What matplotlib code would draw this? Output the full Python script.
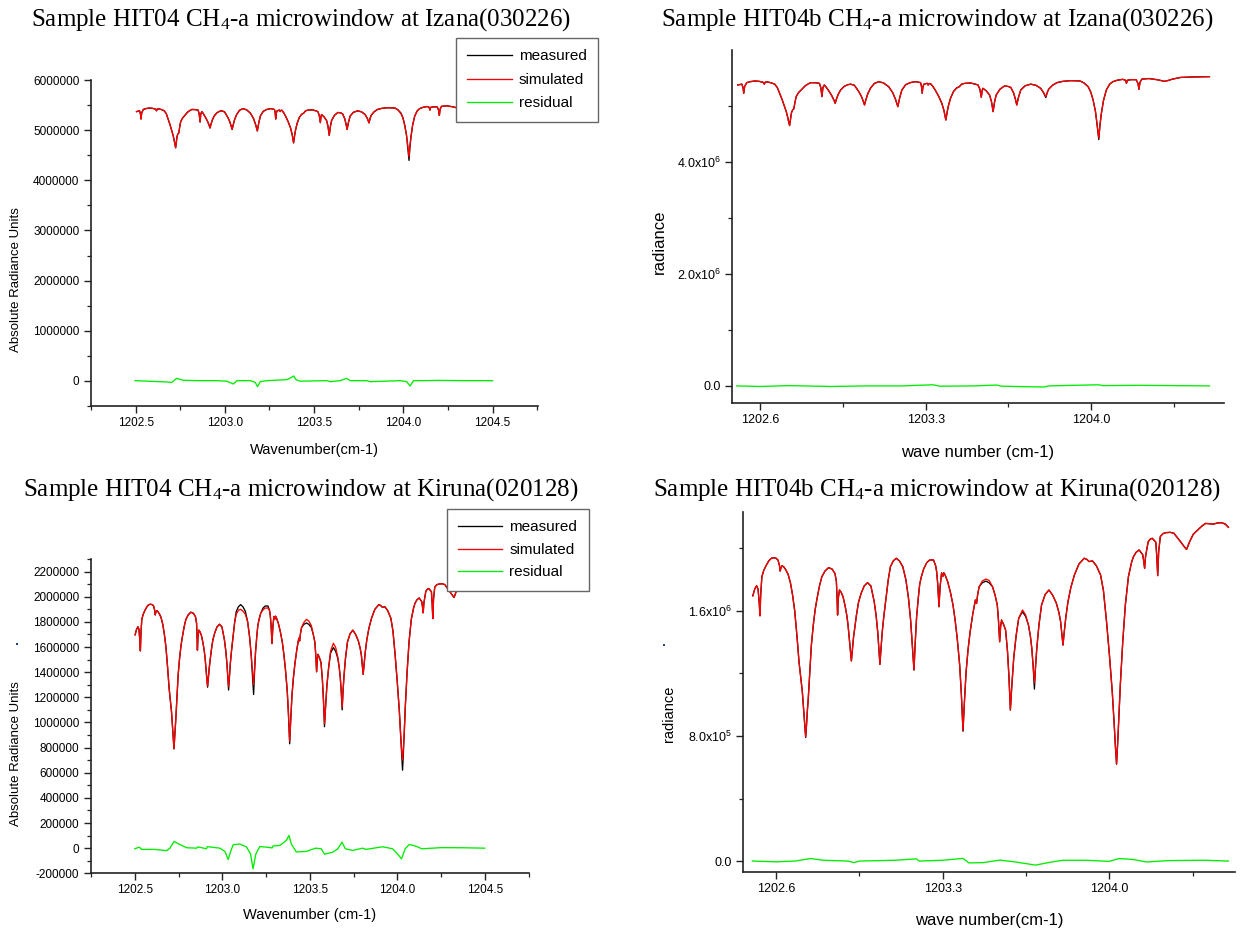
import numpy as np
import matplotlib
matplotlib.use("Agg")
import matplotlib.pyplot as plt
from matplotlib.ticker import FixedLocator, FixedFormatter
from matplotlib.patches import Rectangle

# ---- Izana (030226) measured spectrum, radiance in units of 1e6 ----
wn_iza = [1202.505, 1202.515, 1202.522, 1202.527, 1202.530, 1202.534, 1202.543, 1202.558,
          1202.577, 1202.595, 1202.612, 1202.617, 1202.621, 1202.630, 1202.645, 1202.661,
          1202.672, 1202.682, 1202.692, 1202.703, 1202.710, 1202.716, 1202.720, 1202.724,
          1202.728, 1202.732, 1202.737, 1202.742, 1202.747, 1202.752, 1202.762, 1202.773,
          1202.790, 1202.805, 1202.815, 1202.833, 1202.850, 1202.856, 1202.861, 1202.865,
          1202.871, 1202.880, 1202.892, 1202.903, 1202.912, 1202.917, 1202.922, 1202.930,
          1202.940, 1202.955, 1202.970, 1202.982, 1202.998, 1203.017, 1203.028, 1203.036,
          1203.041, 1203.046, 1203.055, 1203.066, 1203.082, 1203.101, 1203.122, 1203.143,
          1203.160, 1203.172, 1203.182, 1203.190, 1203.199, 1203.215, 1203.234, 1203.257,
          1203.278, 1203.282, 1203.285, 1203.288, 1203.292, 1203.306, 1203.310, 1203.314,
          1203.320, 1203.330, 1203.340, 1203.355, 1203.368, 1203.377, 1203.385, 1203.391,
          1203.396, 1203.405, 1203.417, 1203.430, 1203.442, 1203.452, 1203.466, 1203.490,
          1203.510, 1203.521, 1203.529, 1203.535, 1203.539, 1203.542, 1203.556, 1203.570,
          1203.578, 1203.585, 1203.591, 1203.598, 1203.614, 1203.633, 1203.648, 1203.660,
          1203.672, 1203.680, 1203.685, 1203.692, 1203.702, 1203.720, 1203.744, 1203.766,
          1203.786, 1203.798, 1203.808, 1203.814, 1203.820, 1203.836, 1203.855, 1203.880,
          1203.911, 1203.935, 1203.953, 1203.970, 1203.987, 1203.998, 1204.008, 1204.018,
          1204.025, 1204.032, 1204.037, 1204.043, 1204.052, 1204.064, 1204.078, 1204.092,
          1204.110, 1204.133, 1204.145, 1204.149, 1204.153, 1204.169, 1204.190, 1204.198,
          1204.202, 1204.206, 1204.214, 1204.244, 1204.278, 1204.300, 1204.311, 1204.325,
          1204.344, 1204.378, 1204.410, 1204.445, 1204.500]
iza_meas = [5.375, 5.385, 5.390, 5.330, 5.226, 5.350, 5.417, 5.435,
            5.446, 5.440, 5.423, 5.390, 5.425, 5.430, 5.415, 5.390,
            5.330, 5.226, 5.120, 4.988, 4.900, 4.800, 4.720, 4.650,
            4.760, 4.880, 4.930, 4.950, 5.070, 5.167, 5.240, 5.286,
            5.360, 5.400, 5.417, 5.415, 5.405, 5.330, 5.167, 5.330,
            5.375, 5.330, 5.256, 5.180, 5.100, 5.048, 5.120, 5.210,
            5.286, 5.350, 5.380, 5.390, 5.370, 5.256, 5.170, 5.080,
            5.018, 5.100, 5.220, 5.316, 5.400, 5.435, 5.410, 5.345,
            5.240, 5.120, 4.988, 5.150, 5.286, 5.380, 5.417, 5.435,
            5.417, 5.350, 5.226, 5.340, 5.390, 5.405, 5.375, 5.400,
            5.400, 5.350, 5.286, 5.170, 5.048, 4.920, 4.750, 4.900,
            5.006, 5.140, 5.256, 5.320, 5.345, 5.390, 5.405, 5.410,
            5.390, 5.375, 5.300, 5.155, 5.280, 5.316, 5.270, 5.196,
            5.080, 4.899, 5.070, 5.196, 5.300, 5.357, 5.350, 5.330,
            5.230, 5.110, 5.018, 5.150, 5.286, 5.360, 5.390, 5.370,
            5.316, 5.240, 5.150, 5.240, 5.300, 5.370, 5.417, 5.440,
            5.452, 5.450, 5.446, 5.410, 5.345, 5.250, 5.107, 4.900,
            4.660, 4.400, 4.660, 4.869, 5.100, 5.286, 5.390, 5.435,
            5.460, 5.476, 5.460, 5.405, 5.460, 5.470, 5.470, 5.400,
            5.298, 5.420, 5.480, 5.490, 5.470, 5.450, 5.440, 5.455,
            5.480, 5.510, 5.515, 5.520, 5.524]
# simulated spectra equal the measured one except at these points
iza_sim_hit04_wn = [1202.724, 1203.987, 1204.008, 1204.025, 1204.032, 1204.037]
iza_sim_hit04_val = [4.660, 5.330, 5.090, 4.700, 4.470, 4.700]
iza_sim_hit04b_wn = [1203.808, 1204.032]
iza_sim_hit04b_val = [5.170, 4.430]

# residuals (1e6)
wn_iza_res04 = [1202.497, 1202.674, 1202.702, 1202.730, 1202.767, 1202.860, 1202.954, 1203.010,
                1203.048, 1203.067, 1203.142, 1203.170, 1203.183, 1203.198, 1203.235, 1203.347,
                1203.375, 1203.385, 1203.399, 1203.422, 1203.571, 1203.590, 1203.646, 1203.683,
                1203.702, 1203.795, 1203.814, 1203.982, 1204.019, 1204.038, 1204.057, 1204.094,
                1204.200, 1204.350, 1204.500]
iza_res04 = [0.0, -0.026, -0.036, 0.047, 0.007, 0.0, 0.0, -0.010,
             -0.066, 0.0, 0.0, -0.033, -0.120, -0.020, 0.0, 0.020,
             0.067, 0.094, 0.020, -0.010, 0.0, -0.020, 0.0, 0.047,
             0.0, 0.0, -0.020, 0.0, -0.020, -0.106, 0.0, 0.0,
             0.005, 0.0, 0.0]
wn_iza_res04b = [1202.50, 1202.60, 1202.72, 1202.90, 1203.05, 1203.20, 1203.33, 1203.36,
                 1203.50, 1203.60, 1203.62, 1203.80, 1203.82, 1204.03, 1204.05, 1204.20,
                 1204.35, 1204.50]
iza_res04b = [0.0, -0.010, 0.005, -0.010, 0.0, 0.0, 0.020, -0.005,
              0.0, 0.015, -0.005, -0.020, 0.0, 0.020, 0.005, 0.010,
              0.005, 0.0]

# ---- Kiruna (020128) measured spectrum, radiance in units of 1e6 ----
wn_kir = [1202.502, 1202.510, 1202.518, 1202.524, 1202.529, 1202.532, 1202.535, 1202.540,
          1202.548, 1202.559, 1202.570, 1202.580, 1202.590, 1202.600, 1202.608, 1202.614,
          1202.617, 1202.620, 1202.625, 1202.633, 1202.641, 1202.650, 1202.660, 1202.669,
          1202.678, 1202.688, 1202.696, 1202.703, 1202.710, 1202.716, 1202.720, 1202.724,
          1202.728, 1202.731, 1202.735, 1202.741, 1202.748, 1202.756, 1202.764, 1202.772,
          1202.782, 1202.792, 1202.805, 1202.820, 1202.835, 1202.847, 1202.853, 1202.856,
          1202.858, 1202.861, 1202.866, 1202.873, 1202.881, 1202.890, 1202.897, 1202.902,
          1202.908, 1202.913, 1202.916, 1202.920, 1202.925, 1202.929, 1202.937, 1202.946,
          1202.957, 1202.970, 1202.984, 1202.998, 1203.012, 1203.020, 1203.027, 1203.032,
          1203.036, 1203.041, 1203.046, 1203.053, 1203.062, 1203.071, 1203.080, 1203.092,
          1203.105, 1203.118, 1203.132, 1203.145, 1203.156, 1203.165, 1203.172, 1203.179,
          1203.184, 1203.190, 1203.197, 1203.203, 1203.210, 1203.220, 1203.233, 1203.245,
          1203.261, 1203.270, 1203.274, 1203.279, 1203.284, 1203.289, 1203.295, 1203.300,
          1203.304, 1203.309, 1203.320, 1203.332, 1203.343, 1203.352, 1203.361, 1203.371,
          1203.378, 1203.385, 1203.391, 1203.398, 1203.406, 1203.415, 1203.426, 1203.437,
          1203.442, 1203.447, 1203.453, 1203.466, 1203.481, 1203.495, 1203.509, 1203.520,
          1203.529, 1203.534, 1203.539, 1203.543, 1203.547, 1203.555, 1203.564, 1203.572,
          1203.578, 1203.584, 1203.590, 1203.598, 1203.608, 1203.619, 1203.635, 1203.648,
          1203.660, 1203.668, 1203.674, 1203.680, 1203.685, 1203.690, 1203.695, 1203.704,
          1203.715, 1203.730, 1203.746, 1203.762, 1203.777, 1203.788, 1203.795, 1203.800,
          1203.805, 1203.810, 1203.817, 1203.826, 1203.838, 1203.853, 1203.872, 1203.894,
          1203.905, 1203.915, 1203.929, 1203.945, 1203.963, 1203.975, 1203.988, 1204.000,
          1204.012, 1204.020, 1204.025, 1204.030, 1204.035, 1204.040, 1204.046, 1204.056,
          1204.067, 1204.080, 1204.093, 1204.101, 1204.112, 1204.125, 1204.140, 1204.144,
          1204.148, 1204.152, 1204.163, 1204.172, 1204.180, 1204.195, 1204.199, 1204.203,
          1204.207, 1204.214, 1204.225, 1204.238, 1204.255, 1204.271, 1204.290, 1204.304,
          1204.315, 1204.324, 1204.330, 1204.337, 1204.352, 1204.371, 1204.390, 1204.404,
          1204.420, 1204.437, 1204.455, 1204.470, 1204.487, 1204.500]
kir_meas = [1.697, 1.740, 1.761, 1.740, 1.650, 1.569, 1.700, 1.819,
            1.860, 1.894, 1.922, 1.937, 1.940, 1.937, 1.925, 1.890,
            1.855, 1.875, 1.890, 1.880, 1.862, 1.835, 1.780, 1.702,
            1.600, 1.430, 1.275, 1.180, 1.083, 0.960, 0.870, 0.790,
            0.880, 0.960, 1.041, 1.200, 1.382, 1.510, 1.610, 1.681,
            1.760, 1.819, 1.855, 1.877, 1.868, 1.840, 1.790, 1.680,
            1.574, 1.680, 1.734, 1.720, 1.691, 1.630, 1.570, 1.510,
            1.410, 1.320, 1.280, 1.350, 1.430, 1.478, 1.570, 1.655,
            1.713, 1.760, 1.781, 1.760, 1.659, 1.570, 1.460, 1.350,
            1.258, 1.370, 1.470, 1.574, 1.690, 1.800, 1.883, 1.920,
            1.937, 1.920, 1.883, 1.800, 1.681, 1.540, 1.380, 1.222,
            1.390, 1.560, 1.681, 1.770, 1.819, 1.870, 1.910, 1.926,
            1.926, 1.890, 1.854, 1.770, 1.627, 1.760, 1.843, 1.820,
            1.845, 1.833, 1.790, 1.720, 1.638, 1.540, 1.420, 1.254,
            1.070, 0.830, 1.020, 1.211, 1.350, 1.467, 1.580, 1.670,
            1.648, 1.710, 1.755, 1.780, 1.791, 1.780, 1.755, 1.700,
            1.638, 1.540, 1.403, 1.500, 1.542, 1.515, 1.478, 1.340,
            1.180, 0.966, 1.120, 1.297, 1.440, 1.553, 1.595, 1.565,
            1.510, 1.440, 1.361, 1.240, 1.100, 1.250, 1.361, 1.510,
            1.638, 1.705, 1.734, 1.700, 1.650, 1.590, 1.532, 1.460,
            1.382, 1.460, 1.560, 1.659, 1.750, 1.830, 1.900, 1.937,
            1.930, 1.916, 1.920, 1.890, 1.830, 1.730, 1.531, 1.320,
            1.083, 0.880, 0.740, 0.620, 0.760, 0.930, 1.130, 1.400,
            1.638, 1.820, 1.910, 1.947, 1.975, 1.990, 1.960, 1.920,
            1.872, 1.950, 2.043, 2.060, 2.065, 2.040, 1.950, 1.826,
            1.980, 2.076, 2.095, 2.101, 2.103, 2.097, 2.060, 2.033,
            2.010, 1.994, 2.015, 2.043, 2.090, 2.118, 2.145, 2.160,
            2.158, 2.156, 2.163, 2.165, 2.156, 2.135]
kir_sim_hit04_wn = [1202.916, 1203.036, 1203.080, 1203.092, 1203.105, 1203.118, 1203.132, 1203.172,
                    1203.179, 1203.184, 1203.233, 1203.245, 1203.261, 1203.385, 1203.466, 1203.481,
                    1203.495, 1203.509, 1203.584, 1203.619, 1203.635, 1203.648, 1203.660, 1203.685,
                    1204.025, 1204.030, 1204.035]
kir_sim_hit04_val = [1.290, 1.285, 1.860, 1.893, 1.900, 1.885, 1.860, 1.420,
                     1.300, 1.420, 1.895, 1.910, 1.910, 0.850, 1.795, 1.820,
                     1.805, 1.770, 0.990, 1.570, 1.630, 1.595, 1.520, 1.120,
                     0.780, 0.700, 0.800]
kir_sim_hit04b_wn = [1202.724, 1203.385, 1203.466, 1203.481, 1203.495, 1203.635, 1203.648, 1203.685]
kir_sim_hit04b_val = [0.795, 0.835, 1.792, 1.804, 1.795, 1.606, 1.575, 1.140]

wn_kir_res04 = [1202.500, 1202.526, 1202.539, 1202.615, 1202.682, 1202.701, 1202.724, 1202.749,
                1202.797, 1202.854, 1202.860, 1202.910, 1202.914, 1202.986, 1203.015, 1203.034,
                1203.047, 1203.062, 1203.100, 1203.138, 1203.161, 1203.176, 1203.191, 1203.214,
                1203.252, 1203.285, 1203.290, 1203.328, 1203.366, 1203.381, 1203.394, 1203.423,
                1203.480, 1203.533, 1203.565, 1203.584, 1203.631, 1203.660, 1203.684, 1203.703,
                1203.745, 1203.802, 1203.821, 1203.916, 1203.973, 1204.001, 1204.024, 1204.045,
                1204.068, 1204.106, 1204.140, 1204.250, 1204.380, 1204.500]
kir_res04 = [-0.005, 0.008, -0.010, -0.010, -0.020, 0.000, 0.053, 0.035,
             0.003, 0.000, 0.010, -0.005, 0.012, 0.000, -0.026, -0.090,
             -0.030, 0.027, 0.033, 0.010, -0.044, -0.164, -0.050, 0.013,
             0.008, 0.002, 0.018, 0.021, 0.061, 0.101, 0.035, -0.030,
             -0.026, 0.000, -0.005, -0.048, -0.032, -0.005, 0.048, -0.005,
             -0.018, 0.000, -0.010, 0.011, -0.005, -0.045, -0.085, -0.005,
             0.029, 0.016, -0.005, 0.004, 0.003, 0.000]
wn_kir_res04b = [1202.500, 1202.600, 1202.680, 1202.744, 1202.800, 1202.900, 1202.927, 1202.950,
                 1203.100, 1203.190, 1203.200, 1203.300, 1203.385, 1203.410, 1203.470, 1203.540,
                 1203.600, 1203.690, 1203.750, 1203.806, 1203.900, 1204.000, 1204.040, 1204.100,
                 1204.155, 1204.250, 1204.400, 1204.500]
kir_res04b = [0.0, -0.005, 0.0, 0.016, 0.005, 0.0, -0.010, 0.0,
              0.005, 0.014, 0.0, 0.005, 0.017, -0.012, -0.010, 0.006,
              -0.005, -0.026, -0.008, 0.005, 0.005, -0.002, 0.016, 0.010,
              -0.006, 0.003, 0.005, 0.0]

# tick positions / labels
tl_yticks = [0, 1000000, 2000000, 3000000, 4000000, 5000000, 6000000]
bl_yticks = list(range(-200000, 2200001, 200000))
left_xticks = [1202.5, 1203.0, 1203.5, 1204.0, 1204.5]
left_xminor = [1202.25, 1202.75, 1203.25, 1203.75, 1204.25, 1204.75]
right_xticks = [1202.6, 1203.3, 1204.0]
right_xminor = [1202.95, 1203.65, 1204.35]
tr_yticks = [0, 2000000, 4000000]
tr_ylabels = ["0.0", r"2.0x10$\mathregular{^6}$", r"4.0x10$\mathregular{^6}$"]
br_yticks = [0, 800000, 1600000]
br_ylabels = ["0.0", r"8.0x10$\mathregular{^5}$", r"1.6x10$\mathregular{^6}$"]


def simulated(wn, meas, sim_wn, sim_val):
    fix = dict(zip(sim_wn, sim_val))
    return [fix.get(w, v) for w, v in zip(wn, meas)]


plt.rcParams["font.family"] = ["Liberation Sans", "DejaVu Sans"]

W, H = 1248, 932
fig = plt.figure(figsize=(W / 100, H / 100), dpi=100)


def px_axes(x0, y0, x1, y1):
    # rectangle given in pixels (top-left origin)
    return fig.add_axes([x0 / W, 1 - y1 / H, (x1 - x0) / W, (y1 - y0) / H])


def style(ax, fs):
    for s in ("top", "right"):
        ax.spines[s].set_visible(False)
    for s in ("left", "bottom"):
        ax.spines[s].set_linewidth(1.2)
        ax.spines[s].set_color("#222222")
    ax.tick_params(which="major", length=5, width=1.0, labelsize=fs, color="#222222", pad=3)
    ax.tick_params(which="minor", length=3, width=0.9, color="#222222")


def fig_text(x, y, s, **kw):
    fig.text(x / W, 1 - y / H, s, ha="center", va="center", **kw)


def add_legend(ax, handles, x, y, spacing):
    leg = ax.legend(handles, ["measured", "simulated", "residual"], loc="upper left",
                    bbox_to_anchor=(x / W, 1 - y / H), bbox_transform=fig.transFigure,
                    fontsize=11, frameon=True, fancybox=False, framealpha=1,
                    edgecolor="#666666", borderpad=0.75, handlelength=2.9,
                    handletextpad=0.45, labelspacing=spacing, borderaxespad=0)
    leg.get_frame().set_linewidth(1.0)


c_meas, c_sim, c_res = "#000000", "#ff0000", "#00ee00"
lw = 0.95

iza_sim04 = simulated(wn_iza, iza_meas, iza_sim_hit04_wn, iza_sim_hit04_val)
iza_sim04b = simulated(wn_iza, iza_meas, iza_sim_hit04b_wn, iza_sim_hit04b_val)
kir_sim04 = simulated(wn_kir, kir_meas, kir_sim_hit04_wn, kir_sim_hit04_val)
kir_sim04b = simulated(wn_kir, kir_meas, kir_sim_hit04b_wn, kir_sim_hit04b_val)

# ---------- top-left ----------
ax = px_axes(90.5, 80.3, 537.5, 405.7)
m, = ax.plot(wn_iza, np.array(iza_meas) * 1e6, color=c_meas, lw=lw)
s, = ax.plot(wn_iza, np.array(iza_sim04) * 1e6, color=c_sim, lw=lw)
r, = ax.plot(wn_iza_res04, np.array(iza_res04) * 1e6, color=c_res, lw=lw)
ax.set_xlim(1202.247, 1204.752)
ax.set_ylim(-500000, 6000000)
ax.xaxis.set_major_locator(FixedLocator(left_xticks))
ax.xaxis.set_major_formatter(FixedFormatter([f"{v:.1f}" for v in left_xticks]))
ax.xaxis.set_minor_locator(FixedLocator(left_xminor))
ax.yaxis.set_major_locator(FixedLocator(tl_yticks))
ax.yaxis.set_major_formatter(FixedFormatter([str(v) for v in tl_yticks]))
ax.yaxis.set_minor_locator(FixedLocator([-500000, 500000, 1500000, 2500000, 3500000, 4500000, 5500000]))
style(ax, 8.5)
add_legend(ax, [m, s, r], 456, 38, 0.62)
fig_text(301, 20, r"Sample HIT04 CH$\mathregular{_4}$-a microwindow at Izana(030226)",
         family="Liberation Serif", fontsize=18)
fig_text(16.5, 280, "Absolute Radiance Units", rotation=90, fontsize=9.5)
fig_text(314, 450, "Wavenumber(cm-1)", fontsize=10.5)

# ---------- top-right ----------
ax = px_axes(731.9, 50, 1223.6, 402.7)
ax.plot(wn_iza, np.array(iza_meas) * 1e6, color=c_meas, lw=lw)
ax.plot(wn_iza, np.array(iza_sim04b) * 1e6, color=c_sim, lw=lw)
ax.plot(wn_iza_res04b, np.array(iza_res04b) * 1e6, color=c_res, lw=lw)
ax.set_xlim(1202.48, 1204.56)
ax.set_ylim(-300000, 6000000)
ax.xaxis.set_major_locator(FixedLocator(right_xticks))
ax.xaxis.set_major_formatter(FixedFormatter([f"{v:.1f}" for v in right_xticks]))
ax.xaxis.set_minor_locator(FixedLocator(right_xminor))
ax.yaxis.set_major_locator(FixedLocator(tr_yticks))
ax.yaxis.set_major_formatter(FixedFormatter(tr_ylabels))
ax.yaxis.set_minor_locator(FixedLocator([1000000, 3000000, 5000000]))
style(ax, 9)
fig_text(937, 20, r"Sample HIT04b CH$\mathregular{_4}$-a microwindow at Izana(030226)",
         family="Liberation Serif", fontsize=18)
fig_text(659.5, 242, "radiance", rotation=90, fontsize=12)
fig_text(978, 452, "wave number (cm-1)", fontsize=12)

# ---------- bottom-left ----------
ax = px_axes(90.5, 559, 528.9, 873.3)
m, = ax.plot(wn_kir, np.array(kir_meas) * 1e6, color=c_meas, lw=lw)
s, = ax.plot(wn_kir, np.array(kir_sim04) * 1e6, color=c_sim, lw=lw)
r, = ax.plot(wn_kir_res04, np.array(kir_res04) * 1e6, color=c_res, lw=lw)
ax.set_xlim(1202.247, 1204.752)
ax.set_ylim(-200000, 2300000)
ax.xaxis.set_major_locator(FixedLocator(left_xticks))
ax.xaxis.set_major_formatter(FixedFormatter([f"{v:.1f}" for v in left_xticks]))
ax.xaxis.set_minor_locator(FixedLocator(left_xminor))
ax.yaxis.set_major_locator(FixedLocator(bl_yticks))
ax.yaxis.set_major_formatter(FixedFormatter([str(v) for v in bl_yticks]))
ax.yaxis.set_minor_locator(FixedLocator(list(range(-100000, 2300001, 200000))))
style(ax, 8.5)
add_legend(ax, [m, s, r], 446.6, 509, 0.55)
fig_text(301, 490, r"Sample HIT04 CH$\mathregular{_4}$-a microwindow at Kiruna(020128)",
         family="Liberation Serif", fontsize=18)
fig_text(16, 754, "Absolute Radiance Units", rotation=90, fontsize=9.5)
fig_text(310, 915, "Wavenumber (cm-1)", fontsize=10.5)

# ---------- bottom-right ----------
ax = px_axes(743.3, 511.7, 1234.6, 872.3)
ax.plot(wn_kir, np.array(kir_meas) * 1e6, color=c_meas, lw=lw)
ax.plot(wn_kir, np.array(kir_sim04b) * 1e6, color=c_sim, lw=lw)
ax.plot(wn_kir_res04b, np.array(kir_res04b) * 1e6, color=c_res, lw=lw)
ax.set_xlim(1202.462, 1204.526)
ax.set_ylim(-72000, 2235000)
ax.xaxis.set_major_locator(FixedLocator(right_xticks))
ax.xaxis.set_major_formatter(FixedFormatter([f"{v:.1f}" for v in right_xticks]))
ax.xaxis.set_minor_locator(FixedLocator(right_xminor))
ax.yaxis.set_major_locator(FixedLocator(br_yticks))
ax.yaxis.set_major_formatter(FixedFormatter(br_ylabels))
ax.yaxis.set_minor_locator(FixedLocator([400000, 1200000, 2000000]))
style(ax, 9)
fig_text(937, 490, r"Sample HIT04b CH$\mathregular{_4}$-a microwindow at Kiruna(020128)",
         family="Liberation Serif", fontsize=18)
fig_text(669, 714, "radiance", rotation=90, fontsize=10.5)
fig_text(989, 921, "wave number(cm-1)", fontsize=12)

# two stray dots present in the original figure
for (dx, dy) in [(17, 644), (664, 645)]:
    fig.add_artist(Rectangle(((dx - 1) / W, 1 - (dy + 1) / H), 2 / W, 2 / H,
                             transform=fig.transFigure, color="#1f3f7f", lw=0))

fig.savefig("out.png", dpi=100)
